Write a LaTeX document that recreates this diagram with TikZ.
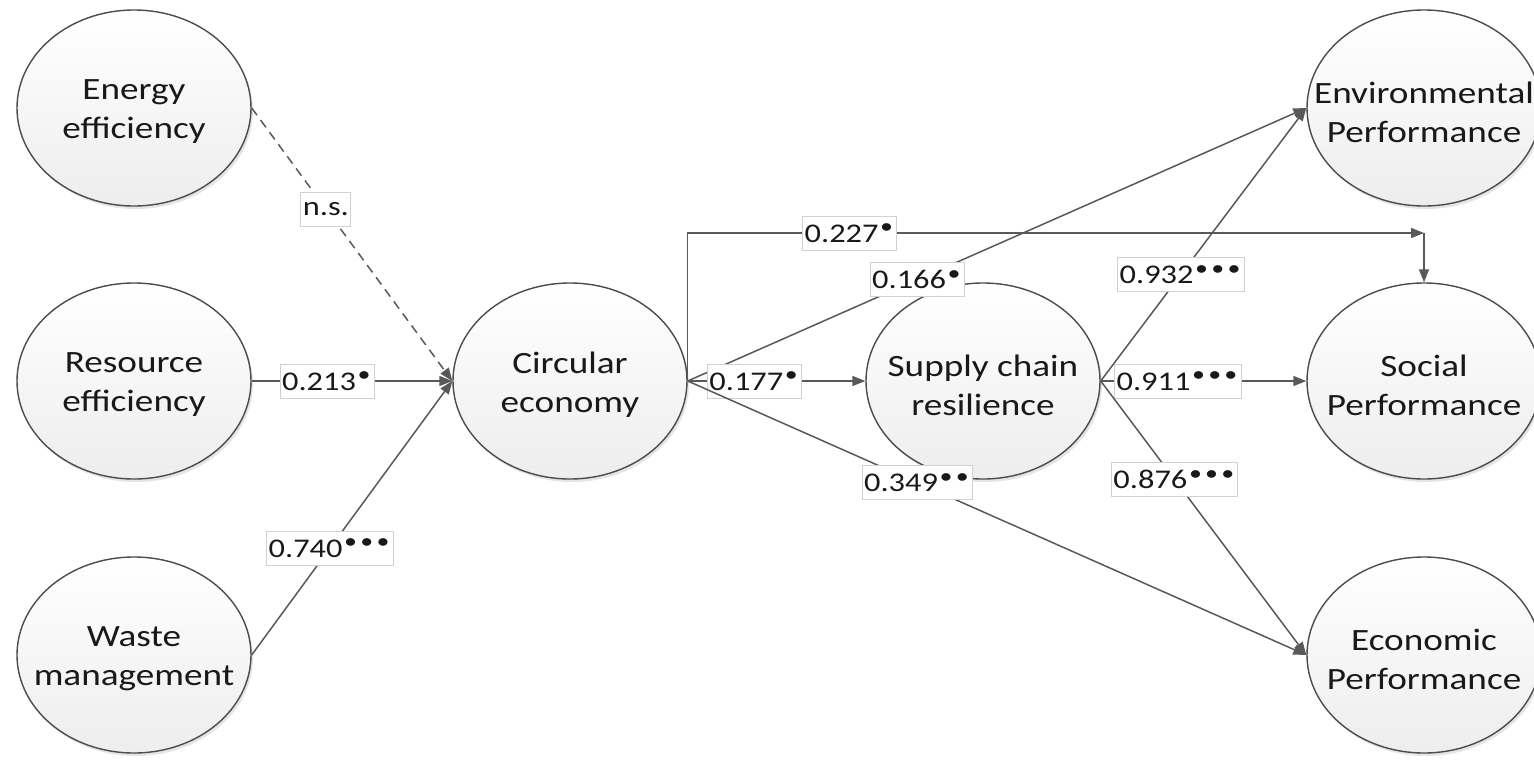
\documentclass[tikz,border=0pt]{standalone}
\usepackage{fontspec}
\setmainfont{Carlito}[FakeStretch=1.2]
\usetikzlibrary{arrows.meta,shadows,shapes.geometric}
\newcommand\sgd{\makebox[0.6em]{\raisebox{0.32em}{\scalebox{0.8}{•}}}}
\begin{document}
\begin{tikzpicture}[x=1pt,y=-1pt,
  lat/.style={ellipse, draw=black!70, line width=1.4pt, minimum width=234pt, minimum height=196pt,
    inner sep=0pt, top color=white, bottom color=black!7,
    drop shadow={opacity=0.2, shadow xshift=2pt, shadow yshift=-3pt}},
  ltxt/.style={font=\fontsize{31pt}{39pt}\selectfont, text=black!90, align=center, yshift=-4pt},
  conn/.style={draw=black!65, line width=1.5pt, -{Triangle[length=13pt,width=10pt]}},
  coef/.style={draw=black!18, solid, line width=1pt, fill=white, font=\fontsize{27pt}{30pt}\selectfont,
    inner xsep=2pt, inner ysep=0pt, minimum height=34pt, text=black!90}]
\fill[white] (0,0) rectangle (1534,761);
\useasboundingbox (0,0) rectangle (1534,761);

\node[lat, label={[ltxt]center:{Energy\\efficiency}}] (ee) at (134,108) {};
\node[lat, label={[ltxt]center:{Resource\\efficiency}}] (re) at (134,381) {};
\node[lat, label={[ltxt]center:{Waste\\management}}] (wm) at (134,655) {};
\node[lat, label={[ltxt]center:{Circular\\economy}}] (ce) at (570,381) {};
\node[lat, label={[ltxt]center:{Supply chain\\resilience}}] (scr) at (983,381) {};
\node[lat, label={[ltxt]center:{Environmental\\Performance}}] (ep) at (1424,108) {};
\node[lat, label={[ltxt]center:{Social\\Performance}}] (soc) at (1424,381) {};
\node[lat, label={[ltxt]center:{Economic\\Performance}}] (ecp) at (1424,655) {};
\coordinate (cor) at (1424,233);

\draw[conn, dash pattern=on 9pt off 6pt] (ee.east) -- node[coef,pos=0.37]{n.s.} (ce.west);
\draw[conn] (re.east) -- node[coef,pos=0.376]{0.213\sgd} (ce.west);
\draw[conn] (wm.east) -- node[coef,pos=0.39]{0.740\sgd\sgd\sgd} (ce.west);
\draw[conn] (ce.east) |- node[coef,pos=0.61]{0.227\sgd} (cor);
\draw[conn] (cor) -- (soc.north);
\draw[conn] (ce.east) -- node[coef,pos=0.371]{0.166\sgd} (ep.west);
\draw[conn] (ce.east) -- node[coef,pos=0.376]{0.177\sgd} (scr.west);
\draw[conn] (ce.east) -- node[coef,pos=0.371]{0.349\sgd\sgd} (ecp.west);
\draw[conn] (scr.east) -- node[coef,pos=0.39]{0.932\sgd\sgd\sgd} (ep.west);
\draw[conn] (scr.east) -- node[coef,pos=0.375]{0.911\sgd\sgd\sgd} (soc.west);
\draw[conn] (scr.east) -- node[coef,pos=0.36]{0.876\sgd\sgd\sgd} (ecp.west);
\end{tikzpicture}
\end{document}
